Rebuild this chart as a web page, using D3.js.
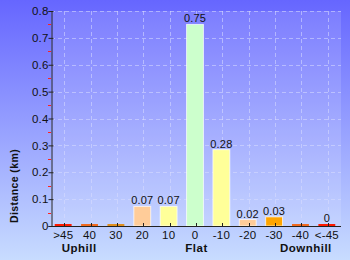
<!DOCTYPE html>
<html><head><meta charset="utf-8">
<script src="https://cdn.jsdelivr.net/npm/d3@7"></script>
<style>html,body{margin:0;padding:0;overflow:hidden;}svg{display:block;}</style>
</head><body>
<script>
const categories = [">45","40","30","20","10","0","-10","-20","-30","-40","<-45"];
const values = [0, 0, 0, 0.073, 0.073, 0.75, 0.284, 0.024, 0.034, 0, 0];
const valueLabels = ["","","","0.07","0.07","0.75","0.28","0.02","0.03","","0"];
const barColors = ["#ff1a00","#f06a20","#e09020","#ffcc99","#ffff99","#ccffcc","#ffff99","#ffcc99","#ffa500","#f06a20","#ff1a00"];
const yTicks = [0,0.1,0.2,0.3,0.4,0.5,0.6,0.7,0.8];
const yMinorTicks = [0.05,0.15,0.25,0.35,0.45,0.55,0.65,0.75];
const groupLabels = ["Uphill","Flat","Downhill"];
const yTitle = "Distance (km)";

const W=350,H=260, L=51, R=341, T=11, B=226;
const FONT = "Liberation Sans, Arial, sans-serif";
const svg = d3.select("body").append("svg").attr("width",W).attr("height",H);
const defs = svg.append("defs");
const g1 = defs.append("linearGradient").attr("id","bg").attr("x1",0).attr("y1",0).attr("x2",0).attr("y2",1);
g1.append("stop").attr("offset","0%").attr("stop-color","#6666ff");
g1.append("stop").attr("offset","100%").attr("stop-color","#c8dcff");
svg.append("rect").attr("width",W).attr("height",H).attr("fill","url(#bg)");
svg.append("rect").attr("x",L).attr("y",T).attr("width",R-L).attr("height",B-T).attr("fill","#ffffff").attr("fill-opacity",0.13);

const x = d3.scaleBand().domain(categories).range([L,R]).paddingInner(0.36).paddingOuter(0.18);
const y = d3.scaleLinear().domain([0,0.8]).range([B,T]);
const cx = c => x(c)+x.bandwidth()/2;

// grid
svg.append("g").selectAll("line").data(yTicks.slice(1)).join("line")
  .attr("x1",L).attr("x2",R).attr("y1",d=>Math.round(y(d))+0.5).attr("y2",d=>Math.round(y(d))+0.5)
  .attr("stroke","#d8dcff").attr("stroke-opacity",0.55).attr("stroke-dasharray","4,3");
svg.append("g").selectAll("line").data(categories).join("line")
  .attr("x1",d=>Math.round(cx(d))+0.5).attr("x2",d=>Math.round(cx(d))+0.5).attr("y1",T).attr("y2",B)
  .attr("stroke","#d8dcff").attr("stroke-opacity",0.55).attr("stroke-dasharray","4,3");

// bars
svg.append("g").selectAll("rect").data(categories).join("rect")
  .attr("x",d=>x(d)-1).attr("width",x.bandwidth())
  .attr("y",(d,i)=>Math.min(y(values[i]),B-2))
  .attr("height",(d,i)=>Math.max(B-y(values[i]),2))
  .attr("fill",(d,i)=>barColors[i])
  .attr("stroke",(d,i)=>values[i]>0?"#ffffff":"none").attr("stroke-opacity",0.7).attr("stroke-width",1);

// value labels
svg.append("g").selectAll("text").data(categories).join("text")
  .attr("x",d=>cx(d)-1).attr("y",(d,i)=>Math.min(y(values[i]),B-2)-2)
  .attr("text-anchor","middle").attr("font-family",FONT)
  .attr("font-size",11).attr("letter-spacing",0.2).attr("fill","#111")
  .text((d,i)=>valueLabels[i]);

// axes
const yAxis = d3.axisLeft(y).tickValues(yTicks).tickFormat(d=>d===0?"0":d3.format(".1f")(d)).tickSize(3).tickPadding(3);
const ya = svg.append("g").attr("transform",`translate(${L+0.5},0)`).call(yAxis);
ya.select(".domain").attr("stroke","#222");
ya.selectAll(".tick line").attr("x2",-3).attr("x1",2).attr("stroke","#222");
ya.selectAll(".tick text").attr("font-family",FONT).attr("font-size",11.5).attr("letter-spacing",0.2).attr("fill","#111").attr("x",-3);
svg.append("g").selectAll("line").data(yMinorTicks).join("line")
  .attr("x1",L-3).attr("x2",L).attr("y1",d=>Math.round(y(d))+0.5).attr("y2",d=>Math.round(y(d))+0.5)
  .attr("stroke","#ff2020");

const xAxis = d3.axisBottom(x).tickSize(0).tickPadding(4);
const xa = svg.append("g").attr("transform",`translate(-1,${B+0.5})`).call(xAxis);
xa.select(".domain").remove();
xa.selectAll(".tick text").attr("font-family",FONT).attr("font-size",11.5).attr("letter-spacing",0.2).attr("fill","#111");
svg.append("line").attr("x1",L).attr("x2",R).attr("y1",B+0.5).attr("y2",B+0.5).attr("stroke","#222");
svg.append("g").selectAll("line").data(categories).join("line")
  .attr("x1",d=>Math.round(cx(d))+0.5).attr("x2",d=>Math.round(cx(d))+0.5).attr("y1",B-3).attr("y2",B)
  .attr("stroke","#222");

// group labels
const gl = svg.append("g").attr("font-family",FONT).attr("font-weight","bold")
  .attr("font-size",11.5).attr("letter-spacing",0.5).attr("fill","#111");
gl.append("text").attr("x",cx(categories[0])-2.5).attr("y",252).attr("text-anchor","start").text(groupLabels[0]);
gl.append("text").attr("x",cx(categories[5])+0.5).attr("y",252).attr("text-anchor","middle").text(groupLabels[1]);
gl.append("text").attr("x",cx(categories[10])+4).attr("y",252).attr("text-anchor","end").text(groupLabels[2]);

// y title
svg.append("text").attr("transform","translate(18,186) rotate(-90)").attr("text-anchor","middle")
  .attr("font-family",FONT).attr("font-weight","bold").attr("font-size",10.5)
  .attr("letter-spacing",0.4).attr("fill","#111").text(yTitle);
</script>
</body></html>
